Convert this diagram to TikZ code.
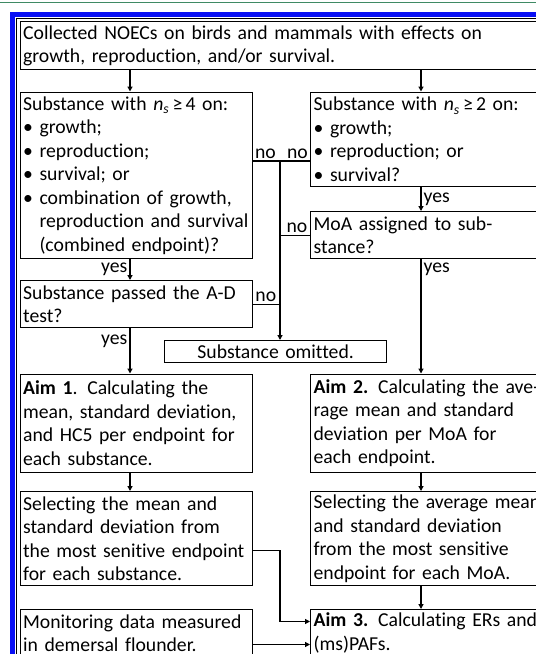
\documentclass[tikz,border=0pt]{standalone}
\usepackage{fontspec}
\setmainfont{Carlito}[Ligatures=NoCommon]
\usepackage{tikz}
\usetikzlibrary{arrows.meta, positioning, calc}
\definecolor{framegreen}{HTML}{3F8A64}
\definecolor{frameblue}{HTML}{0A10F5}

\begin{document}
\begin{tikzpicture}[x=1pt, y=-1pt,
    box/.style={rectangle, draw=black, line width=1.3pt, anchor=north west, align=left, inner xsep=3pt, inner ysep=0pt, font=\fontsize{19.7}{23.5}\selectfont},
    lbl/.style={inner sep=2pt, font=\fontsize{19.7}{23.5}\selectfont},
    flow/.style={-{Triangle[length=5pt, width=5pt]}, line width=1.3pt},
    link/.style={line width=1.3pt}
]
\useasboundingbox (0,0) rectangle (536,654);
\clip (0,0) rectangle (536,654);

% Frame
\draw[framegreen, line width=1.5pt] (0,2.5) -- (536,2.5);
\draw[frameblue, line width=5pt] (560,14.5) -- (12,14.5) -- (12,680);
\draw[line width=0.8pt] (560,18.5) -- (16.5,18.5) -- (16.5,680);

% Boxes
\node[box, text width=540pt, minimum height=48pt] (collect) at (19.5,21) {Collected NOECs on birds and mammals with effects on\\growth, reproduction, and/or survival.};
\node[box, text width=226pt, minimum height=166.5pt] (nsfour) at (19.5,91.5) {Substance with \textit{n}\textsubscript{\textit{s}}\,≥\,4 on:\\\textbullet\ growth;\\\textbullet\ reproduction;\\\textbullet\ survival; or\\\textbullet\ combination of growth,\\\hphantom{\textbullet\ }reproduction and survival\\\hphantom{\textbullet\ }(combined endpoint)?};
\node[box, text width=260pt, minimum height=94.5pt] (nstwo) at (310,91.5) {Substance with \textit{n}\textsubscript{\textit{s}}\,≥\,2 on:\\\textbullet\ growth;\\\textbullet\ reproduction; or\\\textbullet\ survival?};
\node[box, text width=260pt, minimum height=47pt] (moa) at (310,211) {MoA assigned to sub-\\stance?};
\node[box, text width=226pt, minimum height=47pt] (adtest) at (19.5,280) {Substance passed the A-D\\test?};
\node[box, align=center, text width=216pt, minimum height=22pt] (omit) at (164,340) {Substance omitted.};
\node[box, text width=226pt, minimum height=98pt] (aimone) at (19.5,373.5) {\textbf{Aim 1}. Calculating the\\mean, standard deviation,\\and HC5 per endpoint for\\each substance.};
\node[box, text width=260pt, minimum height=98pt] (aimtwo) at (310,373.5) {\textbf{Aim 2.} Calculating the ave-\\rage mean and standard\\deviation per MoA for\\each endpoint.};
\node[box, text width=226pt, minimum height=94pt] (selone) at (19.5,491) {Selecting the mean and\\standard deviation from\\the most senitive endpoint\\for each substance.};
\node[box, text width=260pt, minimum height=94pt] (seltwo) at (310,491) {Selecting the average mean\\and standard deviation\\from the most sensitive\\endpoint for each MoA.};
\node[box, text width=226pt, minimum height=47pt] (monit) at (19.5,609) {Monitoring data measured\\in demersal flounder.};
\node[box, text width=260pt, minimum height=47pt] (aimthree) at (310,609) {\textbf{Aim 3.} Calculating ERs and\\(ms)PAFs.};

% Joints
\coordinate (lx) at (130,0);
\coordinate (rx) at (421,0);
\coordinate (nojoin) at (280,161);
\coordinate (elbow) at (280,550.5);
\coordinate (elbowlow) at (280,621.5);
\coordinate (monjoin) at (280,644.5);

% Arrows
\draw[flow] (collect.south -| lx) -- (nsfour.north -| lx);
\draw[flow] (collect.south -| rx) -- (nstwo.north -| rx);
\draw[flow] (nsfour.south -| lx) -- (adtest.north -| lx) node[lbl, left, midway] {yes};
\draw[flow] (nstwo.south -| rx) -- (moa.north -| rx) node[lbl, right, midway] {yes};
\draw[flow] (moa.south -| rx) -- (aimtwo.north -| rx) node[lbl, right, pos=0.09] {yes};
\draw[flow] (adtest.south -| lx) -- (aimone.north -| lx) node[lbl, left, pos=0.28] {yes};
\draw[link] (nsfour.east |- nojoin) -- (nstwo.west |- nojoin);
\node[lbl, anchor=south west] at (nsfour.east |- nojoin) {no};
\node[lbl, anchor=south east] at (nstwo.west |- nojoin) {no};
\draw[flow] (nojoin) -- (omit.north -| nojoin);
\draw[link] (moa.west) -- (moa.west -| nojoin) node[lbl, anchor=south east, pos=0] {no};
\draw[link] (adtest.east) -- (adtest.east -| nojoin) node[lbl, anchor=south west, pos=0] {no};
\draw[flow] (aimone.south -| lx) -- (selone.north -| lx);
\draw[flow] (aimtwo.south -| rx) -- (seltwo.north -| rx);
\draw[flow] (seltwo.south -| rx) -- (aimthree.north -| rx);
\draw[flow] (selone.east |- elbow) -- (elbow) -- (elbowlow) -- (aimthree.west |- elbowlow);
\draw[flow] (monit.east |- monjoin) -- (aimthree.west |- monjoin);

\end{tikzpicture}
\end{document}
